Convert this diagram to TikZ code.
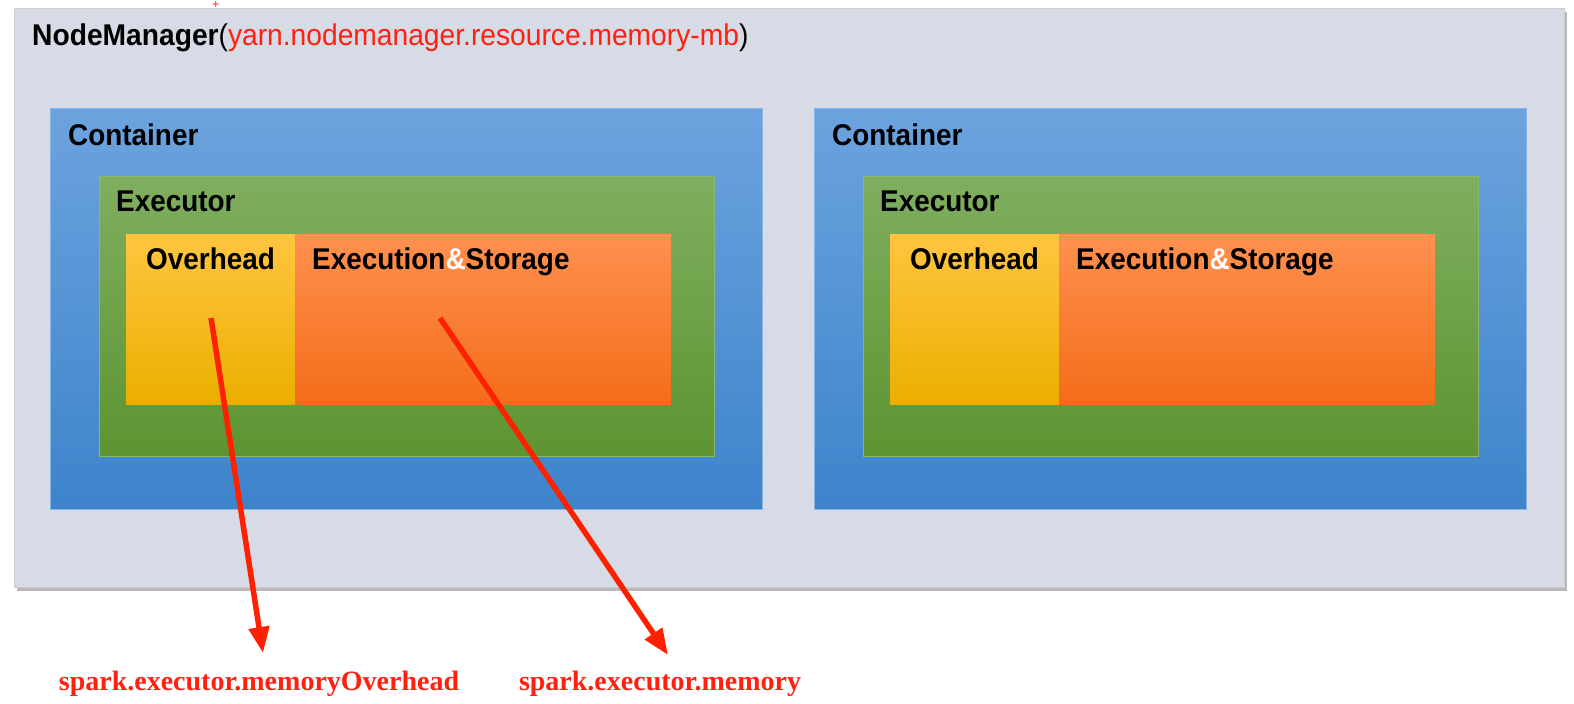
\documentclass[tikz,border=0pt]{standalone}
\usepackage{fontspec}
\setmainfont{Liberation Sans}
\newfontfamily\timesfont{Liberation Serif}
\usetikzlibrary{arrows.meta,shadows}
\definecolor{nmgrey}{HTML}{D6DBE5}
\definecolor{ctop}{HTML}{6CA3DE}
\definecolor{cbot}{HTML}{3D84CB}
\definecolor{etop}{HTML}{80AE60}
\definecolor{ebot}{HTML}{5D9431}
\definecolor{otop}{HTML}{FFC540}
\definecolor{omid}{HTML}{FFC000}
\definecolor{obot}{HTML}{EBAF00}
\definecolor{stop}{HTML}{FF9050}
\definecolor{sbot}{HTML}{F36D19}
\definecolor{redtxt}{HTML}{FF2010}
\definecolor{arrred}{HTML}{FF2000}
\newcommand{\narrow}[1]{\scalebox{0.93}[1]{#1}}
\tikzset{
  box/.style={anchor=north west, inner sep=0pt, outer sep=0pt},
  nmbox/.style={box, fill=nmgrey, draw=gray!40, line width=0.6pt,
     drop shadow={shadow xshift=3pt, shadow yshift=-4pt, fill=black!50, opacity=0.55}},
  contbox/.style={box, top color=ctop, bottom color=cbot, draw=ctop!80!white, line width=0.8pt},
  execbox/.style={box, top color=etop, bottom color=ebot, draw=etop!90!white, line width=0.6pt},
  ovbox/.style={box, top color=otop, middle color=omid, bottom color=obot},
  esbox/.style={box, top color=stop, bottom color=sbot},
  lbl/.style={anchor=base west, inner sep=0pt, font=\fontsize{30}{34}\selectfont\bfseries},
  redarr/.style={draw=arrred, line width=5.5pt, -{Triangle[length=26pt,width=20pt]}},
  sparklbl/.style={anchor=base, inner sep=0pt, text=redtxt, font=\timesfont\fontsize{28}{32}\selectfont\bfseries},
}
\begin{document}
\begin{tikzpicture}[x=1pt,y=-1pt]
\useasboundingbox[fill=white] (0,0) rectangle (1574,704);
% NodeManager
\node[nmbox, minimum width=1550pt, minimum height=579pt] (nm) at (14,8) {};
\node[anchor=base west, inner sep=0pt, font=\fontsize{30}{34}\selectfont] (nmtitle) at (32,45)
  {\scalebox{0.94}[1]{\textbf{NodeManager}(\textcolor{redtxt}{yarn.nodemanager.resource.memory-mb})}};
\node[text=redtxt, inner sep=0pt, font=\fontsize{12}{12}\selectfont] (plus) at (216,5) {+};
% containers
\foreach \i/\dx in {L/0, R/764}{
  \node[contbox, minimum width=712pt, minimum height=401pt] (cont\i) at (50+\dx,108) {};
  \node[lbl] (contlbl\i) at (68+\dx,145) {\narrow{Container}};
  \node[execbox, minimum width=615pt, minimum height=280pt] (exec\i) at (99+\dx,176) {};
  \node[lbl] (execlbl\i) at (116+\dx,211) {\narrow{Executor}};
  \node[ovbox, minimum width=169pt, minimum height=170pt] (ov\i) at (126+\dx,234) {};
  \node[esbox, minimum width=376pt, minimum height=170pt] (es\i) at (295+\dx,234) {};
  \node[lbl] (ovlbl\i) at (146+\dx,269) {\narrow{Overhead}};
  \node[lbl] (eslbl\i) at (312+\dx,269) {\narrow{Execution\textcolor{white}{\&}Storage}};
}
% bottom labels
\node[sparklbl] (sp1) at (259,690) {spark.executor.memoryOverhead};
\node[sparklbl] (sp2) at (660,690) {spark.executor.memory};
% arrows
\coordinate (a1s) at (211,318);
\coordinate (a1e) at (263,653);
\coordinate (a2s) at (440,318);
\coordinate (a2e) at (668,655);
\draw[redarr] (a1s) -- (a1e);
\draw[redarr] (a2s) -- (a2e);
\end{tikzpicture}
\end{document}
